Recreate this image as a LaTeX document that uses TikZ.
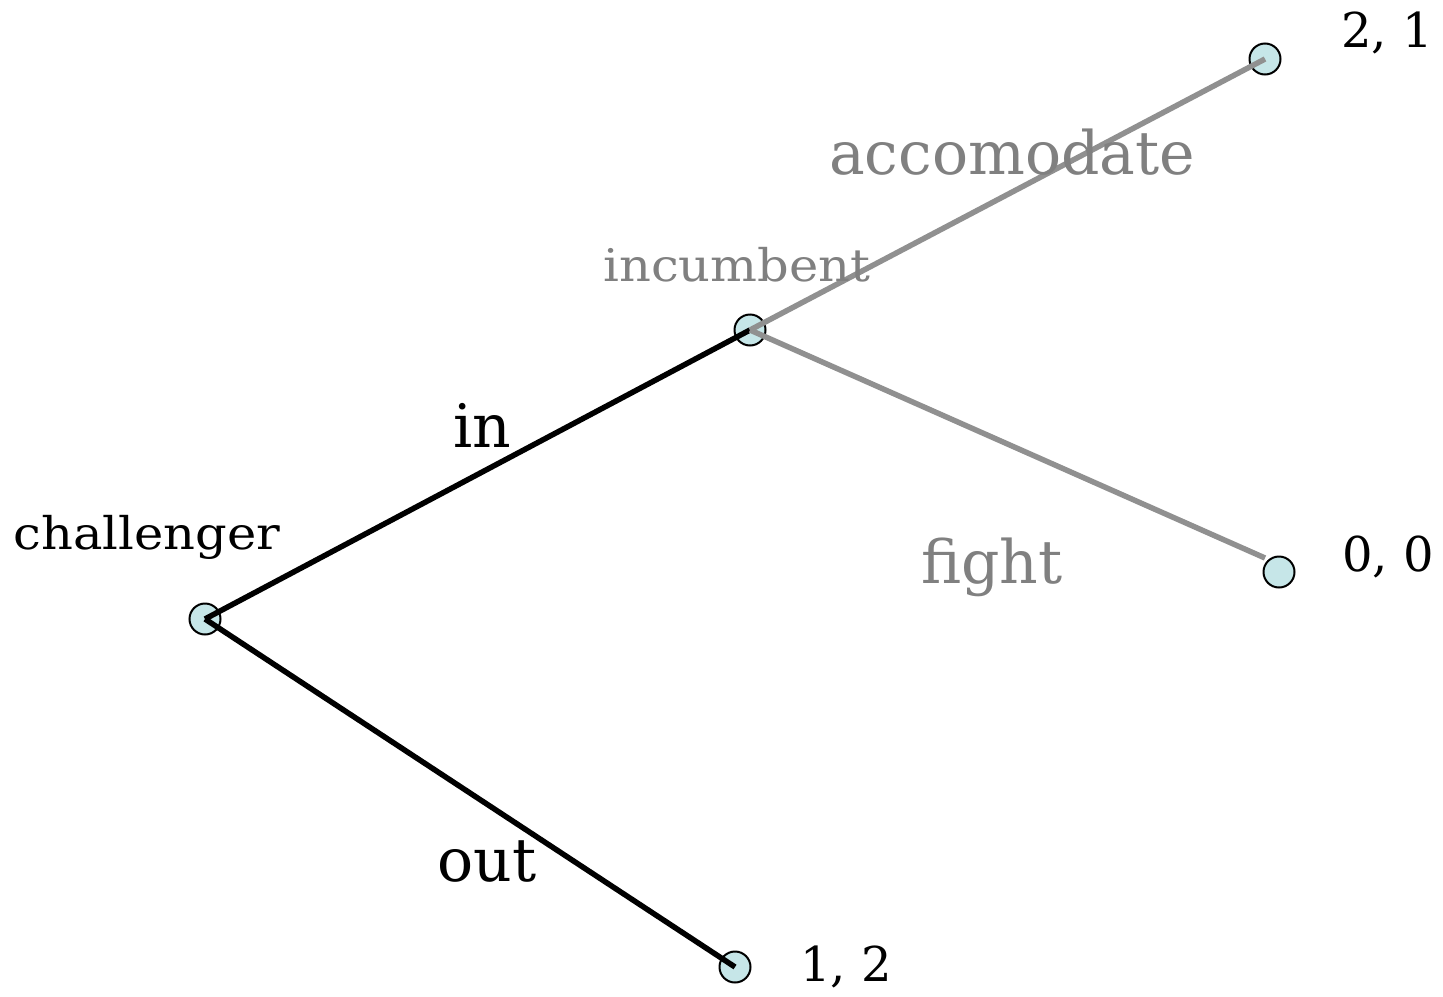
\documentclass[tikz,border=0pt]{standalone}
\usepackage{fontspec}
\setmainfont{DejaVu Serif}
\newfontfamily\widefont[FakeStretch=1.1]{DejaVu Serif}
\definecolor{nodefill}{HTML}{C6E6E8}
\definecolor{edgegray}{HTML}{909090}
\definecolor{textgray}{HTML}{808080}
\begin{document}
\begin{tikzpicture}[x=1pt,y=-1pt,
  gnode/.style={circle,draw=black,fill=nodefill,line width=2pt,minimum size=31pt,inner sep=0pt},
  blackedge/.style={line width=5.5pt,black},
  grayedge/.style={line width=5.5pt,edgegray},
  player/.style={font=\widefont\fontsize{45}{50}\selectfont},
  action/.style={font=\fontsize{60}{66}\selectfont},
  payoff/.style={font=\fontsize{48}{52}\selectfont}]
\useasboundingbox (0,0) rectangle (1443,996);
\node[gnode] (c) at (205,619) {};
\node[gnode] (i) at (750,330) {};
\node[gnode] (a) at (1265,59) {};
\node[gnode] (f) at (1279,572) {};
\node[gnode] (o) at (735,967) {};
\coordinate (fend) at (1265,558);
\draw[blackedge] (c.center) -- (i.center);
\draw[blackedge] (c.center) -- (o.center);
\draw[grayedge] (i.center) -- (a.center);
\draw[grayedge] (i.center) -- (fend);
\node[player] (cl) at (147,537) {challenger};
\node[player,textgray] (il) at (737,265) {incumbent};
\node[action,textgray] (al) at (1012,152) {accomodate};
\node[action,textgray] (fl) at (992,567) {fight};
\node[action] (inl) at (482,425) {in};
\node[action] (outl) at (487,862) {out};
\node[payoff] (p1) at (1387,33) {2, 1};
\node[payoff] (p2) at (1388,557) {0, 0};
\node[payoff] (p3) at (846,967) {1, 2};
\end{tikzpicture}
\end{document}
